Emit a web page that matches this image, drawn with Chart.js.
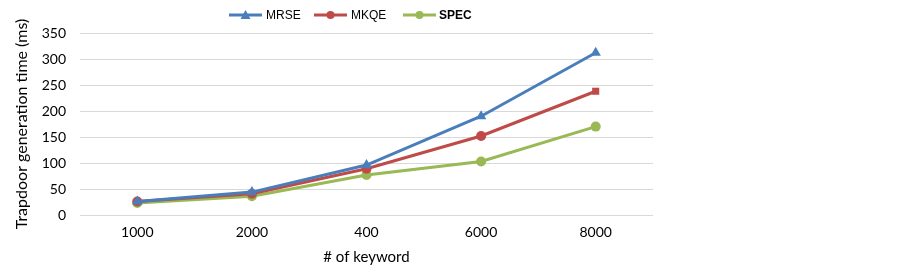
<!DOCTYPE html>
<html><head><meta charset="utf-8">
<script src="https://cdn.jsdelivr.net/npm/chart.js@4"></script>
<style>html,body{margin:0;padding:0;background:#fff}#wrap{width:903px;height:269px}</style>
</head><body><div id="wrap"><canvas id="c" width="903" height="269"></canvas></div>
<script>
const categories = ['1000', '2000', '400', '6000', '8000'];
const mrse = [26, 44, 96, 190, 312];
const mkqe = [26, 41, 89, 152, 238];
const spec = [23, 36, 77, 103, 170];
const yTicks = [0, 50, 100, 150, 200, 250, 300, 350];
const seriesNames = ['MRSE', 'MKQE', 'SPEC'];

const legendPlugin = {
  id: 'lineLegend',
  afterDraw(chart) {
    const ctx = chart.ctx;
    const items = [
      {x: 229, tx: 266, color: '#4a7ebb', style: 'triangle', text: seriesNames[0], bold: false},
      {x: 314, tx: 351, color: '#be4b48', style: 'circle', text: seriesNames[1], bold: false},
      {x: 403, tx: 439, color: '#98b954', style: 'circle', text: seriesNames[2], bold: true}
    ];
    const y = 15;
    ctx.save();
    items.forEach(it => {
      ctx.strokeStyle = it.color; ctx.lineWidth = 3; ctx.lineCap = 'butt';
      ctx.beginPath(); ctx.moveTo(it.x, y); ctx.lineTo(it.x + 33, y); ctx.stroke();
      ctx.fillStyle = it.color;
      const cx = it.x + 16.5;
      ctx.beginPath();
      if (it.style === 'triangle') { ctx.moveTo(cx, y - 5); ctx.lineTo(cx + 5, y + 4); ctx.lineTo(cx - 5, y + 4); ctx.closePath(); }
      else { ctx.arc(cx, y, 4, 0, Math.PI * 2); }
      ctx.fill();
      ctx.fillStyle = '#000';
      ctx.font = (it.bold ? 'bold ' : '') + '12px "Liberation Sans", Arial, sans-serif';
      ctx.textBaseline = 'middle';
      ctx.fillText(it.text, it.tx, y + 1);
    });
    ctx.restore();
  }
};

new Chart(document.getElementById('c'), {
  type: 'line',
  data: {
    labels: categories,
    datasets: [
      {label: seriesNames[0], data: mrse, borderColor: '#4a7ebb', backgroundColor: '#4a7ebb', borderWidth: 3, pointStyle: 'triangle', pointRadius: 6, pointBorderWidth: 0, tension: 0},
      {label: seriesNames[1], data: mkqe, borderColor: '#be4b48', backgroundColor: '#be4b48', borderWidth: 3, pointStyle: ['circle','circle','circle','circle','rect'], pointRadius: 5, pointBorderWidth: 0, tension: 0},
      {label: seriesNames[2], data: spec, borderColor: '#98b954', backgroundColor: '#98b954', borderWidth: 3, pointStyle: 'circle', pointRadius: 5, pointBorderWidth: 0, tension: 0}
    ]
  },
  options: {
    responsive: false,
    animation: false,
    devicePixelRatio: 1,
    layout: {padding: {top: 33, right: 250, left: 0, bottom: 3}},
    plugins: {legend: {display: false}, tooltip: {enabled: false}},
    scales: {
      x: {
        offset: true,
        afterFit(scale) { scale.height = 51; },
        grid: {display: false, drawTicks: false},
        border: {display: false},
        ticks: {color: '#000', font: {family: 'Lato', size: 14}, padding: 9},
        title: {display: true, text: '# of keyword', color: '#000', font: {family: 'Lato', size: 15}, padding: {top: 0, bottom: 0}}
      },
      y: {
        min: 0, max: 350,
        afterFit(scale) { scale.width = 80; },
        afterBuildTicks(scale) { scale.ticks = yTicks.map(v => ({value: v})); },
        grid: {color: '#d9d9d9', lineWidth: 1, drawTicks: false},
        border: {display: false},
        ticks: {color: '#000', font: {family: 'Lato', size: 14}, padding: 14},
        title: {display: true, text: 'Trapdoor generation time (ms)', color: '#000', font: {family: 'Lato', size: 16}, padding: {top: 12, bottom: 0}}
      }
    }
  },
  plugins: [legendPlugin]
});
</script></body></html>
